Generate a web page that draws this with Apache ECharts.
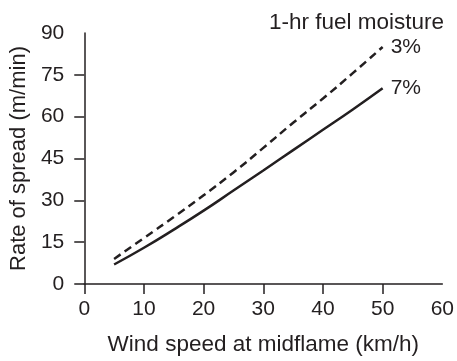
<!DOCTYPE html>
<html>
<head>
<meta charset="utf-8">
<script src="https://cdn.jsdelivr.net/npm/echarts@6/dist/echarts.min.js"></script>
<style>html,body{margin:0;padding:0;background:#fff;}#c{width:457px;height:361px;}</style>
</head>
<body>
<div id="c"></div>
<script>
const windSpeed = [5, 10, 15, 20, 25, 30, 35, 40, 45, 50];
const ros3 = [9, 16.5, 24, 31.8, 40, 48.8, 57.8, 66.5, 75.6, 85];
const ros7 = [7, 13, 19.5, 26.3, 33.5, 40.7, 48, 55.3, 62.6, 70.2];
const seriesNames = ['3%', '7%'];
const legendTitle = '1-hr fuel moisture';
const xTicks = [0, 10, 20, 30, 40, 50, 60];
const yTicks = [0, 15, 30, 45, 60, 75, 90];
const xTitle = 'Wind speed at midflame (km/h)';
const yTitle = 'Rate of spread (m/min)';

const ink = '#231f20';
const font = 'Liberation Sans';
const chart = echarts.init(document.getElementById('c'), null, {renderer: 'canvas'});
const pairs = a => windSpeed.map((x, i) => [x, a[i]]);
chart.setOption({
  animation: false,
  backgroundColor: '#fff',
  title: {
    text: legendTitle, left: 264, top: 6,
    textStyle: {fontFamily: font, fontSize: 22.5, fontWeight: 'normal', color: ink}
  },
  grid: {left: 83, right: 12, top: 33, bottom: 72, containLabel: false},
  xAxis: {
    type: 'value', min: 0, max: 60, interval: 10,
    name: xTitle, nameLocation: 'middle', nameGap: 49,
    nameTextStyle: {fontFamily: font, fontSize: 22.5, color: ink},
    axisLine: {show: true, lineStyle: {color: ink, width: 1.5}},
    axisTick: {show: true, length: 10, inside: false, lineStyle: {color: ink, width: 1.5},
      customValues: xTicks.slice(0, -1)},
    axisLabel: {fontFamily: font, fontSize: 21, color: ink, margin: 15, customValues: xTicks},
    splitLine: {show: false}
  },
  yAxis: {
    type: 'value', min: 0, max: 90, interval: 15,
    name: yTitle, nameLocation: 'middle', nameGap: 52,
    nameTextStyle: {fontFamily: font, fontSize: 22, color: ink},
    axisLine: {show: true, lineStyle: {color: ink, width: 1.5}},
    axisTick: {show: true, length: 10, lineStyle: {color: ink, width: 1.5},
      customValues: yTicks.slice(0, -1)},
    axisLabel: {fontFamily: font, fontSize: 21, color: ink, margin: 20, customValues: yTicks},
    splitLine: {show: false}
  },
  series: [
    {
      name: seriesNames[0], type: 'line', data: pairs(ros3), smooth: true, symbol: 'none',
      lineStyle: {color: ink, width: 2.5, type: [8, 5]},
      endLabel: {show: true, formatter: seriesNames[0], distance: 8,
        fontFamily: font, fontSize: 21, color: ink}
    },
    {
      name: seriesNames[1], type: 'line', data: pairs(ros7), smooth: true, symbol: 'none',
      lineStyle: {color: ink, width: 2.5},
      endLabel: {show: true, formatter: seriesNames[1], distance: 8,
        fontFamily: font, fontSize: 21, color: ink}
    }
  ]
});
</script>
</body>
</html>
